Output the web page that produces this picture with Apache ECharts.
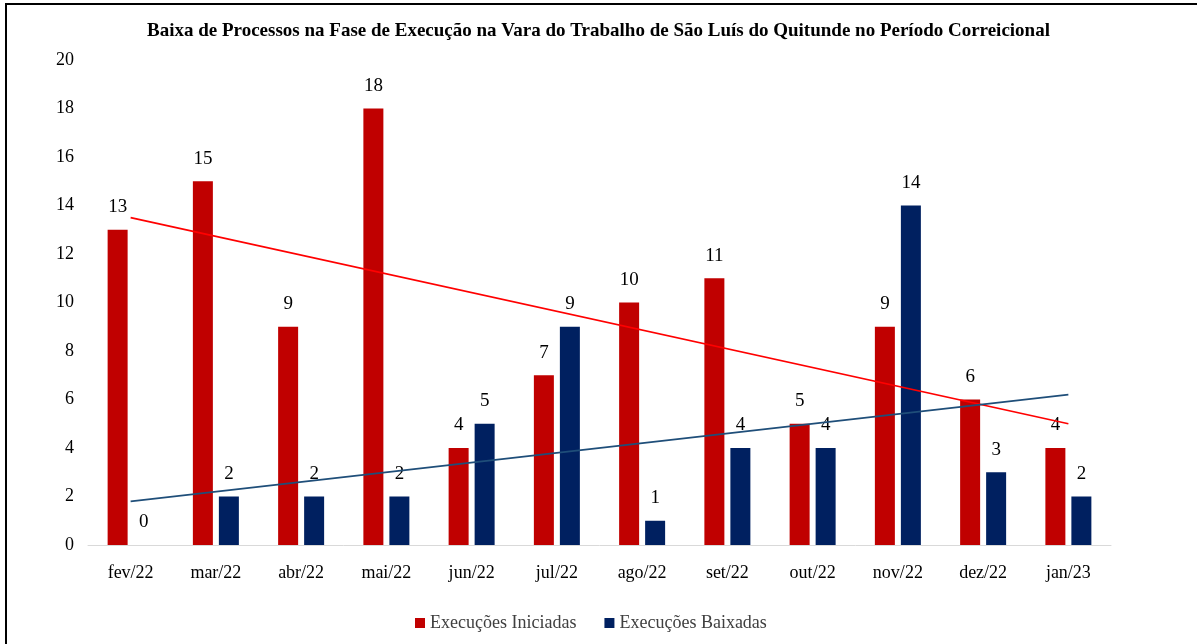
<!DOCTYPE html>
<html>
<head>
<meta charset="utf-8">
<script src="https://cdn.jsdelivr.net/npm/echarts@6/dist/echarts.min.js"></script>
<style>
  html, body { margin: 0; padding: 0; background: #fff; }
  #chart { width: 1197px; height: 644px; }
</style>
</head>
<body>
<div id="chart"></div>
<script>
// Months of the review period
const months = ['fev/22', 'mar/22', 'abr/22', 'mai/22', 'jun/22', 'jul/22', 'ago/22', 'set/22', 'out/22', 'nov/22', 'dez/22', 'jan/23'];
// Executions started and executions closed per month
const iniciadas = [13, 15, 9, 18, 4, 7, 10, 11, 5, 9, 6, 4];
const baixadas = [0, 2, 2, 2, 5, 9, 1, 4, 4, 14, 3, 2];
// Linear trend endpoints (first and last month)
const trendIniciadas = [13.5, 5.0];
const trendBaixadas = [1.8, 6.2];
// Y-axis range
const yMin = 0, yMax = 20, yStep = 2;

const serif = '"Liberation Serif", "DejaVu Serif", serif';

function endpoints(pair) {
  return months.map((_, i) => i === 0 ? pair[0] : (i === months.length - 1 ? pair[1] : null));
}

const chart = echarts.init(document.getElementById('chart'), null, { renderer: 'canvas' });
chart.setOption({
  animation: false,
  backgroundColor: '#ffffff',
  textStyle: { fontFamily: serif },
  title: {
    text: 'Baixa de Processos na Fase de Execução na Vara do Trabalho de São Luís do Quitunde no Período Correicional',
    left: 'center',
    top: 17,
    textStyle: { fontFamily: serif, fontWeight: 'bold', fontSize: 19, color: '#000' }
  },
  legend: {
    bottom: 7,
    left: 410,
    itemWidth: 10,
    itemHeight: 10,
    itemGap: 28,
    icon: 'rect',
    textStyle: { fontFamily: serif, fontSize: 18, color: '#404040' },
    data: ['Execuções Iniciadas', 'Execuções Baixadas']
  },
  grid: { left: 88, right: 86, top: 60, bottom: 99, containLabel: false },
  xAxis: {
    type: 'category',
    data: months,
    axisTick: { show: false },
    axisLine: { show: true, lineStyle: { color: '#d9d9d9', width: 1 } },
    axisLabel: { fontFamily: serif, fontSize: 18, color: '#000', margin: 19 }
  },
  yAxis: {
    type: 'value',
    min: yMin,
    max: yMax,
    interval: yStep,
    splitLine: { show: false },
    axisLine: { show: false },
    axisTick: { show: false },
    axisLabel: { fontFamily: serif, fontSize: 18, color: '#000', margin: 14 }
  },
  series: [
    {
      name: 'Execuções Iniciadas',
      type: 'bar',
      data: iniciadas,
      barWidth: 20,
      barGap: '30%',
      itemStyle: { color: '#C00000' },
      label: { show: true, position: 'top', distance: 13, fontFamily: serif, fontSize: 19, color: '#000' }
    },
    {
      name: 'Execuções Baixadas',
      type: 'bar',
      data: baixadas,
      barWidth: 20,
      barGap: '30%',
      itemStyle: { color: '#002060' },
      label: { show: true, position: 'top', distance: 13, fontFamily: serif, fontSize: 19, color: '#000' }
    },
    {
      name: 'Tendência Iniciadas',
      type: 'line',
      data: endpoints(trendIniciadas),
      connectNulls: true,
      symbol: 'none',
      z: 5,
      lineStyle: { color: '#FF0000', width: 1.6 },
      tooltip: { show: false }
    },
    {
      name: 'Tendência Baixadas',
      type: 'line',
      data: endpoints(trendBaixadas),
      connectNulls: true,
      symbol: 'none',
      z: 5,
      lineStyle: { color: '#1F4E79', width: 1.6 },
      tooltip: { show: false }
    }
  ],
  graphic: [{
    type: 'rect',
    shape: { x: 6, y: 4, width: 1300, height: 800 },
    style: { fill: 'none', stroke: '#000', lineWidth: 2 },
    silent: true
  }]
});
</script>
</body>
</html>
